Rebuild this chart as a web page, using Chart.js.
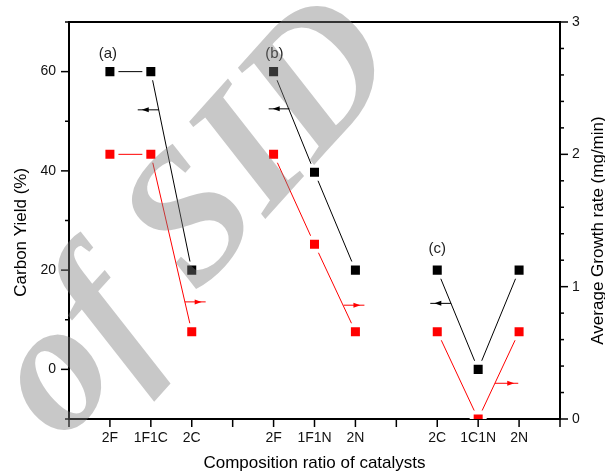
<!DOCTYPE html>
<html>
<head>
<meta charset="utf-8">
<script src="https://cdn.jsdelivr.net/npm/chart.js@4.4.0/dist/chart.umd.min.js"></script>
<style>
  html, body { margin: 0; padding: 0; background: #fff; }
  #wrap { width: 605px; height: 472px; position: relative; }
</style>
</head>
<body>
<div id="wrap"><canvas id="chart"></canvas></div>
<script>
// x categories, blank slots separate the three panels
const categories = ['2F', '1F1C', '2C', '', '2F', '1F1N', '2N', '', '2C', '1C1N', '2N'];
// Carbon yield (%) - left axis
const carbonYield = [60, 60, 20, null, 60, 39.7, 20, null, 20, 0, 20];
// Average growth rate (mg/min) - right axis
const growthRate = [2.0, 2.0, 0.66, null, 2.0, 1.32, 0.66, null, 0.66, 0.0, 0.66];
// labelled (major) ticks
const yieldTicks = [0, 20, 40, 60];
const rateTicks = [0, 1, 2, 3];
const panelLabels = ['(a)', '(b)', '(c)'];
const rightTitle = 'Average Growth rate (mg/min)';

// where the panel labels and axis arrows sit, in data units
const panelLabelAt = [[-0.05, 63.5], [4.02, 63.5], [8, 24.2]];
const arrows = [
  { axis: 'y', from: 1.2, to: 0.68, at: 52.3, color: '#000' },
  { axis: 'y', from: 4.39, to: 3.88, at: 52.5, color: '#000' },
  { axis: 'y', from: 8.34, to: 7.83, at: 13.3, color: '#000' },
  { axis: 'y1', from: 1.83, to: 2.34, at: 0.885, color: '#ff0000' },
  { axis: 'y1', from: 5.71, to: 6.22, at: 0.86, color: '#ff0000' },
  { axis: 'y1', from: 9.41, to: 9.98, at: 0.27, color: '#ff0000' }
];

Chart.defaults.font.family = '"Liberation Sans", Arial, sans-serif';
Chart.defaults.color = '#111';

function seg(ctx, x0, y0, x1, y1) {
  ctx.beginPath(); ctx.moveTo(x0, y0); ctx.lineTo(x1, y1); ctx.stroke();
}

const decorations = {
  id: 'decorations',
  afterDatasetsDraw(chart) {
    const { ctx, chartArea: a, scales } = chart;
    ctx.save();
    ctx.strokeStyle = '#000';
    ctx.lineWidth = 2;
    seg(ctx, a.left - 1, a.top, a.right + 1, a.top);

    // tick marks, pointing outwards
    ctx.lineWidth = 1.5;
    scales.x.ticks.forEach(t => {
      const px = scales.x.getPixelForValue(t.value);
      seg(ctx, px, a.bottom, px, a.bottom + 8);
    });
    scales.y.ticks.forEach(t => {
      const py = scales.y.getPixelForValue(t.value);
      const len = yieldTicks.includes(t.value) ? 8 : 4;
      seg(ctx, a.left - len, py, a.left, py);
    });
    scales.y1.ticks.forEach(t => {
      const py = scales.y1.getPixelForValue(t.value);
      const major = rateTicks.some(v => Math.abs(v - t.value) < 1e-6);
      seg(ctx, a.right, py, a.right + (major ? 8 : 4), py);
    });

    // arrows telling which axis each series uses
    arrows.forEach(ar => {
      const x0 = scales.x.getPixelForValue(ar.from);
      const x1 = scales.x.getPixelForValue(ar.to);
      const y = scales[ar.axis].getPixelForValue(ar.at);
      const dir = Math.sign(x1 - x0);
      const tip = x1 - dir * 4;
      ctx.strokeStyle = ar.color;
      ctx.fillStyle = ar.color;
      ctx.lineWidth = 1;
      seg(ctx, x0, y, x1, y);
      ctx.beginPath();
      ctx.moveTo(tip, y);
      ctx.lineTo(tip - dir * 7, y - 2.5);
      ctx.lineTo(tip - dir * 7, y + 2.5);
      ctx.closePath();
      ctx.fill();
    });

    // (a) (b) (c)
    ctx.fillStyle = '#222';
    ctx.font = '15px "Liberation Sans", Arial, sans-serif';
    ctx.textAlign = 'center';
    ctx.textBaseline = 'middle';
    panelLabels.forEach((txt, i) => {
      const [xv, yv] = panelLabelAt[i];
      ctx.fillText(txt, scales.x.getPixelForValue(xv), scales.y.getPixelForValue(yv));
    });

    // right axis title reads bottom-to-top like the left one
    ctx.fillStyle = '#000';
    ctx.font = '17px "Liberation Sans", Arial, sans-serif';
    ctx.translate(598, (a.top + a.bottom) / 2 + 10);
    ctx.rotate(-Math.PI / 2);
    ctx.fillText(rightTitle, 0, 0);
    ctx.restore();
  },
  afterDraw(chart) {
    // site watermark over the figure
    const ctx = chart.ctx;
    ctx.save();
    ctx.translate(198, 222);
    ctx.rotate(-48 * Math.PI / 180);
    ctx.font = 'italic bold 186px "Liberation Serif", serif';
    ctx.fillStyle = 'rgba(123,123,123,0.42)';
    ctx.textAlign = 'center';
    ctx.textBaseline = 'middle';
    ctx.fillText('of SID', 0, 0);
    ctx.restore();
  }
};

function points(values) {
  return categories.map((c, i) => ({ x: i, y: values[i] }));
}

const ctx = document.getElementById('chart').getContext('2d');
new Chart(ctx, {
  type: 'line',
  data: {
    datasets: [
      {
        label: 'Carbon Yield',
        data: points(carbonYield),
        yAxisID: 'y',
        borderColor: '#000',
        borderWidth: 1,
        backgroundColor: '#000',
        pointStyle: 'rect',
        pointRadius: 9.2,
        pointBorderWidth: 4,
        pointBorderColor: '#fff',
        spanGaps: false
      },
      {
        label: 'Average Growth rate',
        data: points(growthRate),
        yAxisID: 'y1',
        borderColor: '#ff0000',
        borderWidth: 1,
        backgroundColor: '#ff0000',
        pointStyle: 'rect',
        pointRadius: 9.2,
        pointBorderWidth: 4,
        pointBorderColor: '#fff',
        spanGaps: false
      }
    ]
  },
  options: {
    responsive: true,
    maintainAspectRatio: false,
    animation: false,
    events: [],
    layout: { padding: { top: 22, left: 0, right: 0, bottom: 0 } },
    plugins: { legend: { display: false }, tooltip: { enabled: false } },
    scales: {
      x: {
        type: 'linear',
        min: -1,
        max: 11,
        afterFit: s => { s.height = 53; },
        grid: { display: false, drawTicks: false },
        border: { display: true, color: '#000', width: 2 },
        ticks: {
          stepSize: 1,
          autoSkip: false,
          maxRotation: 0,
          padding: 11,
          font: { size: 14 },
          callback: v => categories[v] || ''
        },
        title: {
          display: true,
          text: 'Composition ratio of catalysts',
          font: { size: 17, lineHeight: 1 },
          padding: 0,
          color: '#000'
        }
      },
      y: {
        position: 'left',
        min: -10,
        max: 70,
        afterFit: s => { s.width = 69; },
        grid: { display: false, drawTicks: false },
        border: { display: true, color: '#000', width: 2 },
        ticks: {
          stepSize: 10,
          padding: 13,
          font: { size: 14 },
          callback: v => yieldTicks.includes(v) ? v : ''
        },
        title: {
          display: true,
          text: 'Carbon Yield (%)     ',
          font: { size: 17, lineHeight: 1 },
          padding: { top: 13, bottom: 0 },
          color: '#000'
        }
      },
      y1: {
        position: 'right',
        min: 0,
        max: 3,
        afterFit: s => { s.width = 45; },
        grid: { display: false, drawTicks: false },
        border: { display: true, color: '#000', width: 2 },
        ticks: {
          stepSize: 0.1,
          maxTicksLimit: 100,
          padding: 12,
          font: { size: 14 },
          callback: v => rateTicks.some(r => Math.abs(r - v) < 1e-6) ? Math.round(v) : ''
        },
        title: { display: false }
      }
    }
  },
  plugins: [decorations]
});
</script>
</body>
</html>
